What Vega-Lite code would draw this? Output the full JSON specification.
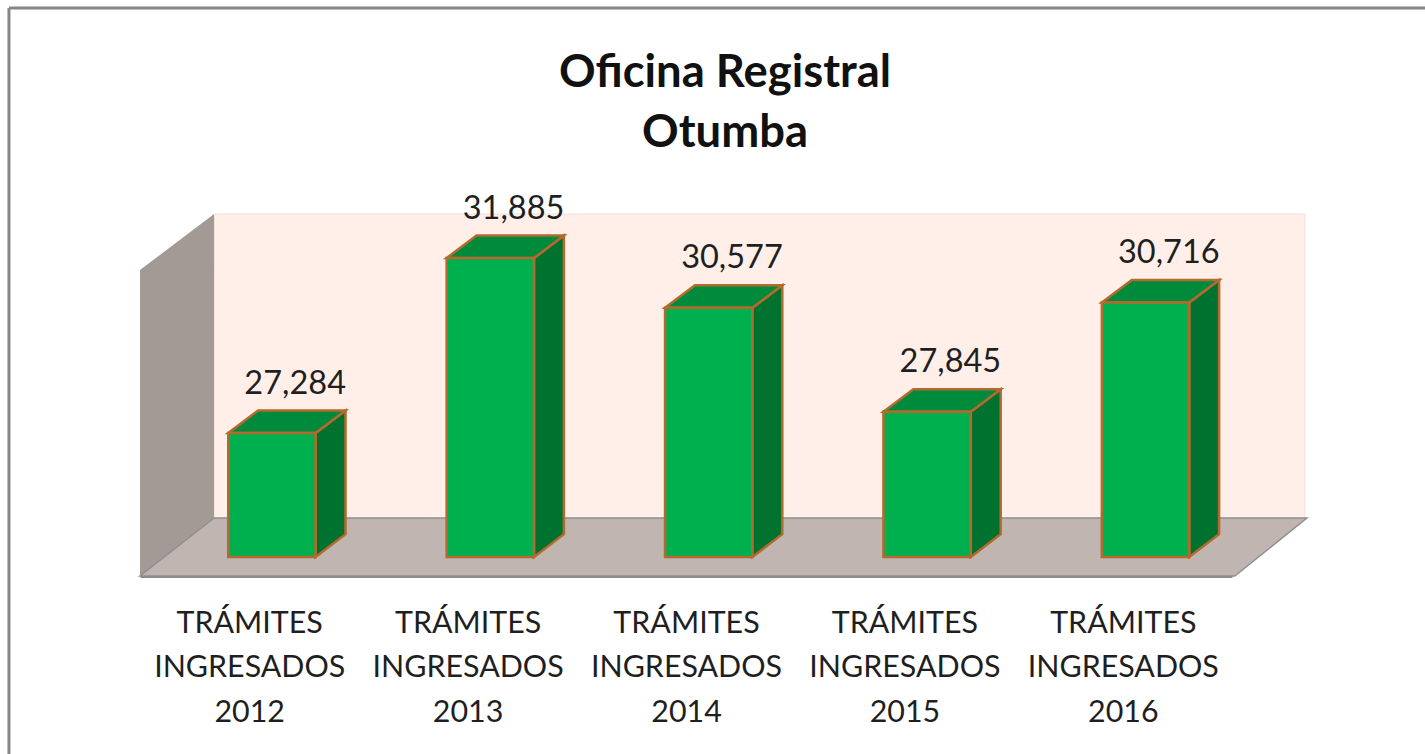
{
"$schema":"https://vega.github.io/schema/vega-lite/v6.json",
"autosize":"none",
"width":1092,"height":376,
"padding":{"left":140,"top":200,"right":193,"bottom":178},
"background":"white",
"title":{"text":["Oficina Registral","Otumba"],"font":"Lato","fontSize":45.4,"fontWeight":"bold","color":"#111111","anchor":"middle","dx":39,"offset":-196,"lineHeight":60,"baseline":"bottom"},
"config":{"view":{"stroke":null}},
"data":{"values":[
{"label":"TRÁMITES INGRESADOS 2012","year":2012,"value":27284},
{"label":"TRÁMITES INGRESADOS 2013","year":2013,"value":31885},
{"label":"TRÁMITES INGRESADOS 2014","year":2014,"value":30577},
{"label":"TRÁMITES INGRESADOS 2015","year":2015,"value":27845},
{"label":"TRÁMITES INGRESADOS 2016","year":2016,"value":30716}
]},
"encoding":{
"x":{"type":"quantitative","scale":{"domain":[2011.5,2016.5],"nice":false,"zero":false},"axis":{"orient":"bottom","values":[2012,2013,2014,2015,2016],"labelExpr":"['TRÁMITES','INGRESADOS',format(datum.value,'d')]","ticks":false,"grid":false,"title":null,"domain":true,"domainColor":"#8A8A8A","domainWidth":3,"labelFont":"Lato","labelFontSize":30.4,"labelColor":"#1F1F1F","labelLineHeight":44.5,"labelPadding":32,"labelLimit":400,"labelOverlap":false,"labelFlush":false,"labelBaseline":"top"}},
"y":{"type":"quantitative","scale":{"domain":[23524,33411],"nice":false,"zero":false},"axis":null}
},
"layer":[
{"data":{"values":[{"a":1}]},"mark":{"type":"rule","color":"#868686","strokeWidth":3,"clip":false},
 "encoding":{"x":{"datum":2010.9},"x2":{"datum":2017.4},"y":{"datum":38460}}},
{"data":{"values":[{"a":1}]},"mark":{"type":"rule","color":"#868686","strokeWidth":3,"clip":false},
 "encoding":{"x":{"datum":2010.9},"y":{"datum":38460},"y2":{"datum":18843}}},
{"data":{"values":[{"edge":0},{"edge":1}]},
 "transform":[{"calculate":"2011.839+datum.edge*4.995","as":"px"},{"calculate":"25049","as":"y0"},{"calculate":"33043","as":"y1"}],
 "mark":{"type":"area","orient":"vertical","color":"#FFEFE8","stroke":"#F0E0DA","strokeWidth":1},
 "encoding":{"x":{"field":"px","type":"quantitative"},"y":{"field":"y0","type":"quantitative","stack":null},"y2":{"field":"y1"}}},
{"data":{"values":[{"edge":0},{"edge":1}]},
 "transform":[{"calculate":"2011.5+datum.edge*0.339","as":"px"},{"calculate":"23524+datum.edge*1525","as":"y0"},{"calculate":"31570+datum.edge*1473","as":"y1"}],
 "mark":{"type":"area","orient":"vertical","color":"#A39A95"},
 "encoding":{"x":{"field":"px","type":"quantitative"},"y":{"field":"y0","type":"quantitative","stack":null},"y2":{"field":"y1"}}},
{"data":{"values":[{"edge":0},{"edge":1}]},
 "transform":[{"calculate":"23524+datum.edge*1525","as":"yy"},{"calculate":"2011.5+datum.edge*0.339","as":"x0"},{"calculate":"2016.513+datum.edge*0.33","as":"x1"}],
 "mark":{"type":"area","orient":"horizontal","color":"#C1B5B1","stroke":"#8F8F8F","strokeWidth":1.5},
 "encoding":{"y":{"field":"yy","type":"quantitative"},"x":{"field":"x0","type":"quantitative","stack":null},"x2":{"field":"x1"}}},
{"transform":[{"calculate":"[0,1]","as":"edge"},{"flatten":["edge"]},
  {"calculate":"datum.year+0.304+datum.edge*0.137","as":"px"},
  {"calculate":"24024+datum.edge*600","as":"y0"},
  {"calculate":"datum.value+datum.edge*590","as":"y1"}],
 "mark":{"type":"area","orient":"vertical","color":"#00722F","stroke":"#B46A2E","strokeWidth":2.5},
 "encoding":{"detail":{"field":"year"},"x":{"field":"px","type":"quantitative"},"y":{"field":"y0","type":"quantitative","stack":null},"y2":{"field":"y1"}}},
{"transform":[{"calculate":"[0,1]","as":"edge"},{"flatten":["edge"]},
  {"calculate":"datum.value+datum.edge*590","as":"yy"},
  {"calculate":"datum.year-0.096+datum.edge*0.137","as":"x0"},
  {"calculate":"datum.year+0.304+datum.edge*0.137","as":"x1"}],
 "mark":{"type":"area","orient":"horizontal","color":"#008A3C","stroke":"#B46A2E","strokeWidth":2.5},
 "encoding":{"detail":{"field":"year"},"y":{"field":"yy","type":"quantitative"},"x":{"field":"x0","type":"quantitative","stack":null},"x2":{"field":"x1"}}},
{"transform":[{"calculate":"datum.year-0.096","as":"x0"},{"calculate":"datum.year+0.304","as":"x1"},{"calculate":"24024","as":"base"}],
 "mark":{"type":"rect","color":"#00B04F","stroke":"#B46A2E","strokeWidth":2.5},
 "encoding":{"x":{"field":"x0","type":"quantitative"},"x2":{"field":"x1"},"y":{"field":"value","type":"quantitative"},"y2":{"field":"base"}}},
{"transform":[{"calculate":"datum.year+0.2105","as":"px"},{"calculate":"datum.value+1300","as":"py"}],
 "mark":{"type":"text","font":"Lato","fontSize":32.5,"color":"#1F1F1F","align":"center","baseline":"middle"},
 "encoding":{"x":{"field":"px","type":"quantitative"},"y":{"field":"py","type":"quantitative"},"text":{"field":"value","type":"quantitative","format":","}}}
]
}
